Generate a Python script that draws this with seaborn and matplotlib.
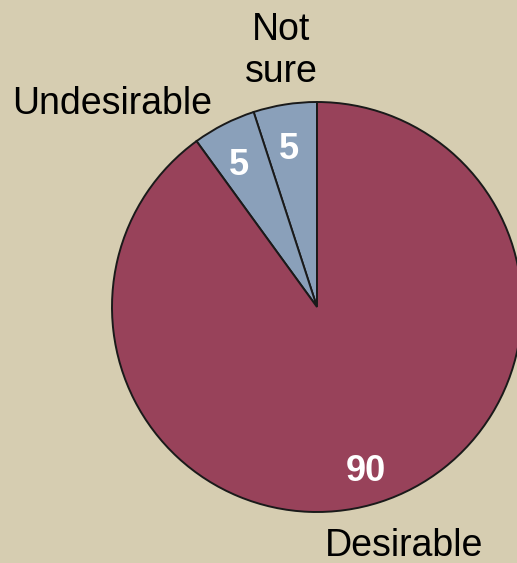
import matplotlib
matplotlib.use("Agg")
import matplotlib.pyplot as plt
import seaborn as sns

# Data
categories = ["Not\nsure", "Undesirable", "Desirable"]
values = [5, 5, 90]
colors = ["#8AA0BA", "#8AA0BA", "#98425A"]

sns.set_theme(style="white")
plt.rcParams['font.family'] = ['Liberation Sans', 'DejaVu Sans']

BG = "#D6CDB1"
fig = plt.figure(figsize=(5.17, 5.63), dpi=100, facecolor=BG)
ax = fig.add_axes([0, 0, 1, 1])
ax.set_facecolor(BG)

wedges, texts, autotexts = ax.pie(
    values, colors=colors, startangle=90, counterclock=True,
    radius=1.0, center=(0, 0),
    autopct=lambda p: f"{p:.0f}", pctdistance=0.81,
    wedgeprops=dict(edgecolor="#1a1a1a", linewidth=1.4),
    textprops=dict(fontsize=27),
)
for t in autotexts:
    t.set_color("white")
    t.set_fontweight("bold")
    t.set_fontsize(26)
    x, y = t.get_position()
    t.set_position((x - 0.012, y - 0.03))

# category labels placed like the reference
label_pos = [(-0.176, 1.25), (-1.0, 0.99), (0.424, -1.165)]
for name, (x, y) in zip(categories, label_pos):
    ax.text(x, y, name, ha="center", va="center", fontsize=27,
            color="black", linespacing=1.2)

ax.set_xlim(-317 / 205, 200 / 205)
ax.set_ylim(-(563 - 307) / 205, 307 / 205)
ax.set_aspect("equal")
ax.axis("off")

fig.savefig("out.png", dpi=100, facecolor=BG)
